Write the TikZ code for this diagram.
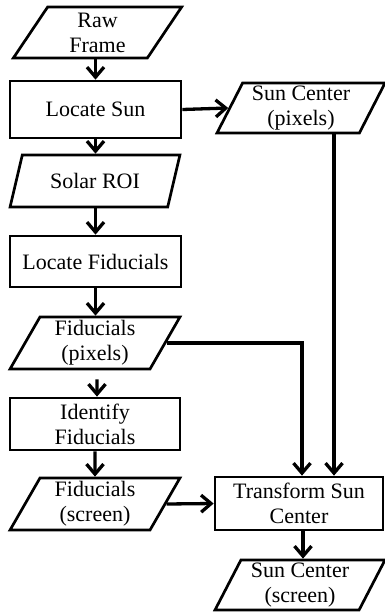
\documentclass[tikz,border=0pt]{standalone}
\usepackage{fontspec}
\setmainfont{Liberation Serif}
\usetikzlibrary{shapes.geometric,arrows.meta}
\begin{document}
\begin{tikzpicture}[x=1pt,y=-1pt,
  txt/.style={font=\fontsize{22}{25}\selectfont, align=center, inner sep=0pt, text=black},
  box/.style={txt, draw, line width=2.7pt, rectangle, minimum width=171pt, minimum height=#1},
  box/.default=52pt,
  io/.style={txt, draw, line width=2.7pt, trapezium, trapezium left angle=64, trapezium right angle=116,
    trapezium stretches=true, minimum width=170pt, minimum height=#1},
  io/.default=52pt,
  arr/.style={line width=3.3pt, -{Straight Barb[length=10pt,width=17pt]}}
]
\useasboundingbox (0,0) rectangle (385,614);
% left column
\node[io=51pt, minimum width=169pt] (raw) at (97.5,32.5) {Raw\\Frame};
\node[box=57pt] (locsun) at (95.5,109.5) {Locate Sun};
\node[io] (roi) at (95,181) {Solar ROI};
\node[box=51pt] (locfid) at (95.5,261.5) {Locate Fiducials};
\node[io] (fidpix) at (95,343) {Fiducials\\(pixels)};
\node[box, minimum width=170pt] (idfid) at (95,424) {Identify\\Fiducials};
\node[io] (fidscr) at (95,504) {Fiducials\\(screen)};
% right column
\node[io=50pt, minimum width=168pt] (sunpix) at (301,108) {Sun Center\\(pixels)};
\node[box=53pt, minimum width=168pt] (trans) at (299,503.5) {Transform Sun\\Center};
\node[io=50pt] (sunscr) at (300,585) {Sun Center\\(screen)};
% connectors
\draw[arr] (raw.south -| locsun.north) -- (locsun.north);
\draw[arr] (locsun.south) -- (locsun.south |- roi.north);
\draw[arr] (roi.south -| locfid.north) -- (locfid.north);
\draw[arr] (locfid.south) -- (locfid.south |- fidpix.north);
\draw[arr, shorten <=9pt] ([xshift=2pt]fidpix.south) -- ([xshift=2pt]idfid.north);
\draw[arr] (idfid.south) -- (fidscr.north);
\draw[arr] (locsun.east) -- (sunpix.west);
\draw[arr] (fidscr.east) -- (trans.west);
\draw[arr] ([xshift=33pt]sunpix.south) -- ([xshift=33pt]sunpix.south |- trans.north);
\draw[arr] (fidpix.east) -| ([xshift=3pt]trans.north);
\draw[arr] ([xshift=4pt]trans.south) -- ([xshift=4pt]trans.south |- sunscr.north);
\end{tikzpicture}
\end{document}
